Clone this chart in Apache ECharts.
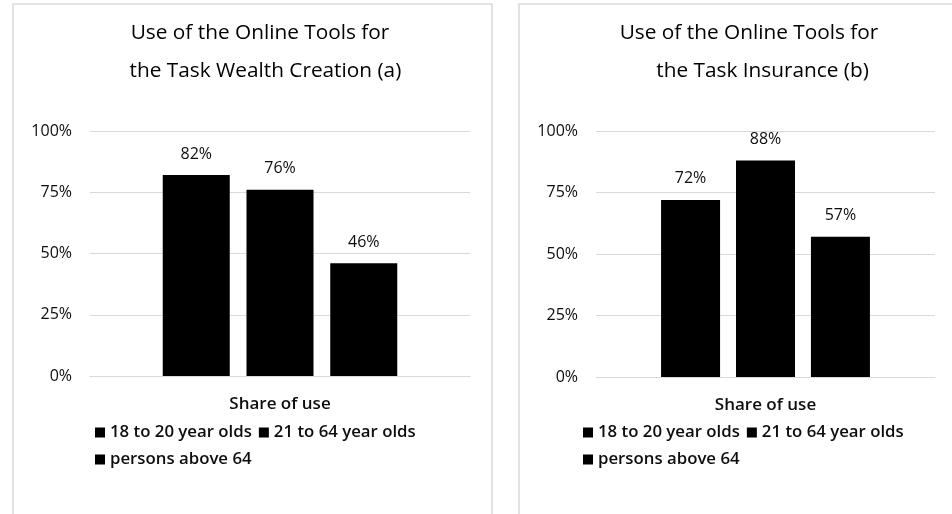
<!DOCTYPE html>
<html>
<head>
<meta charset="utf-8">
<script src="https://cdn.jsdelivr.net/npm/echarts@6/dist/echarts.min.js"></script>
<style>
html,body{margin:0;padding:0;background:#fff;}
#chart{width:952px;height:514px;}
</style>
</head>
<body>
<div id="chart"></div>
<script>
const categories = ['Share of use'];
const groups = ['18 to 20 year olds', '21 to 64 year olds', 'persons above 64'];
const wealthCreation = [82, 76, 46];
const insurance = [72, 88, 57];
const titleA = 'Use of the Online Tools for\n  the Task Wealth Creation (a)';
const titleB = 'Use of the Online Tools for\n     the Task Insurance (b)';
const yMin = 0, yMax = 100, yStep = 25;

const FONT = '"Open Sans"';
const TXT = '#0d0d0d';
const GRIDC = '#d9d9d9';

function xAx(gridIndex) {
  return {
    type: 'category', gridIndex, data: categories,
    axisLine: { show: true, lineStyle: { color: GRIDC, width: 1 } },
    axisTick: { show: false },
    axisLabel: { color: TXT, fontFamily: FONT, fontSize: 17, fontWeight: 600, margin: 20 }
  };
}
function yAx(gridIndex) {
  return {
    type: 'value', gridIndex, min: yMin, max: yMax, interval: yStep,
    axisLine: { show: false }, axisTick: { show: false },
    splitLine: { lineStyle: { color: GRIDC, width: 1 } },
    axisLabel: { color: TXT, fontFamily: FONT, fontSize: 16, margin: 18, formatter: '{value}%' }
  };
}
function barSeries(values, gi, bw, gap) {
  return values.map((v, i) => ({
    type: 'bar', name: groups[i], xAxisIndex: gi, yAxisIndex: gi,
    data: [v], barWidth: bw, barGap: gap,
    itemStyle: { color: '#000' },
    label: { show: true, position: 'top', distance: 13, color: TXT, fontFamily: FONT, fontSize: 16, formatter: '{c}%' },
    emphasis: { disabled: true }
  }));
}
const legendCommon = {
  icon: 'rect', itemWidth: 10, itemHeight: 10, itemGap: 7, padding: 0,
  orient: 'horizontal', selectedMode: false,
  textStyle: { color: TXT, fontFamily: FONT, fontSize: 16.8, fontWeight: 600 }
};

const chart = echarts.init(document.getElementById('chart'), null, { renderer: 'canvas' });
chart.setOption({
  animation: false,
  backgroundColor: '#fff',
  graphic: [
    { type: 'rect', shape: { x: 13, y: 4, width: 479, height: 530 }, style: { fill: 'none', stroke: GRIDC, lineWidth: 1.5 }, silent: true },
    { type: 'rect', shape: { x: 519, y: 4, width: 450, height: 530 }, style: { fill: 'none', stroke: GRIDC, lineWidth: 1.5 }, silent: true }
  ],
  title: [
    { text: titleA, left: 260, top: 14, textAlign: 'center', padding: 0,
      textStyle: { color: '#000', fontFamily: FONT, fontSize: 20.8, fontWeight: 'normal', lineHeight: 38, align: 'center' } },
    { text: titleB, left: 749, top: 14, textAlign: 'center', padding: 0,
      textStyle: { color: '#000', fontFamily: FONT, fontSize: 20.8, fontWeight: 'normal', lineHeight: 38, align: 'center' } }
  ],
  legend: [
    Object.assign({}, legendCommon, { data: [groups[0], groups[1]], left: 95, top: 424 }),
    Object.assign({}, legendCommon, { data: [groups[2]], left: 95, top: 451 }),
    Object.assign({}, legendCommon, { data: [groups[0], groups[1]], left: 583, top: 424 }),
    Object.assign({}, legendCommon, { data: [groups[2]], left: 583, top: 451 })
  ],
  grid: [
    { left: 90, right: 482, top: 131, bottom: 138 },
    { left: 596, right: 17, top: 131, bottom: 137 }
  ],
  xAxis: [xAx(0), xAx(1)],
  yAxis: [yAx(0), yAx(1)],
  series: [].concat(barSeries(wealthCreation, 0, 67, '25%'), barSeries(insurance, 1, 59, '27%'))
});
</script>
</body>
</html>
